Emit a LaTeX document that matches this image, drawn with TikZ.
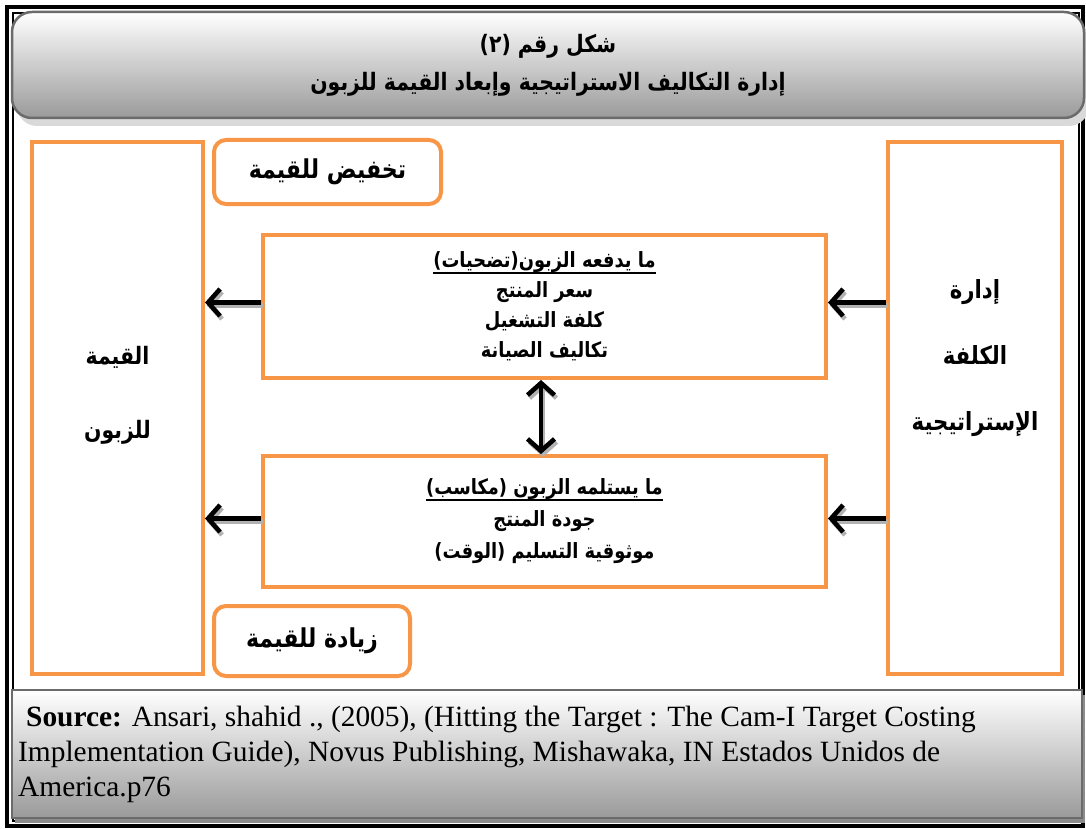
\documentclass[tikz,border=0pt]{standalone}
\usepackage{fontspec}
\setmainfont{Liberation Serif}
\newfontfamily\arabicfont[Script=Arabic,FakeStretch=0.85]{DejaVu Sans}
\TeXXeTstate=1
\usetikzlibrary{arrows.meta,shadows}
\definecolor{boxorange}{HTML}{F79646}
\definecolor{framegray}{HTML}{6B6B6B}
\definecolor{shadegray}{HTML}{9A9A9A}
% one right-to-left line of bold Arabic text
\newcommand{\artext}[1]{{\arabicfont\bfseries\beginR #1\endR}}
% the same, with a heavy rule under it
\newcommand{\arunder}[1]{\setbox0\hbox{\artext{#1}}%
  \vtop{\copy0\kern-\dp0\kern4pt\hrule height 1.8pt}}
\begin{document}
\begin{tikzpicture}[x=1pt,y=-1pt,
  orangebox/.style={draw=boxorange, line width=4pt, fill=white, inner sep=0pt},
  roundbox/.style={orangebox, rounded corners=12pt},
  grayband/.style={draw=framegray, line width=2.5pt, top color=white, bottom color=shadegray, inner sep=0pt},
  bartext/.style={font=\arabicfont\bfseries\fontsize{21}{30}\selectfont, align=center},
  flowarrow/.style={line width=4.6pt, -{Straight Barb[length=12pt,width=27pt]},
    preaction={draw=black!30, line width=4.6pt, -{Straight Barb[length=12pt,width=27pt]},
      transform canvas={shift={(2pt,-3pt)}}}},
  twoarrow/.style={line width=4.6pt, {Straight Barb[length=12pt,width=27pt]}-{Straight Barb[length=12pt,width=27pt]},
    preaction={draw=black!30, line width=4.6pt, {Straight Barb[length=12pt,width=27pt]}-{Straight Barb[length=12pt,width=27pt]},
      transform canvas={shift={(2pt,-3pt)}}}}
]
\useasboundingbox (0,0) rectangle (1086,829);
\fill[white] (0,0) rectangle (1086,829);

% page frame
\draw[line width=4pt] (7,7) rectangle (1083,826);
\draw[line width=1.2pt] (13,13) rectangle (1079,821);

% title band
\node[grayband, rounded corners=20pt, minimum width=1072pt, minimum height=106pt,
  drop shadow={shadow xshift=5pt, shadow yshift=-8pt, fill=black!15, opacity=1},
  font=\arabicfont\bfseries\fontsize{24}{38}\selectfont, align=center]
  (title) at (548,65)
  {\artext{شكل رقم (٢)}\\\artext{إدارة التكاليف الاستراتيجية وإبعاد القيمة للزبون}};

% source band
\node[grayband, minimum width=1070pt, minimum height=128pt,
  drop shadow={shadow xshift=3pt, shadow yshift=-5pt, fill=black!45, opacity=1}]
  (srcband) at (547,754) {};
\node[anchor=north west, align=left, inner sep=0pt,
  font=\fontsize{29.4}{35}\selectfont] (source) at (18,706)
  {\hspace*{8pt}\textbf{Source:} Ansari, shahid ., (2005), (Hitting the Target : The Cam-I Target Costing\\
   Implementation Guide), Novus Publishing, Mishawaka, IN Estados Unidos de\\
   America.p76};

% side boxes
\node[orangebox, minimum width=171pt, minimum height=532pt] (value) at (117.5,408) {};
\node[align=center, font=\arabicfont\bfseries\fontsize{24}{74}\selectfont] (valuetxt) at (117.5,395)
  {\artext{القيمة}\\\artext{للزبون}};
\node[orangebox, minimum width=174pt, minimum height=532pt] (mgmt) at (975,408) {};
\node[align=center, font=\arabicfont\bfseries\fontsize{25}{66}\selectfont] (mgmttxt) at (975,358)
  {\artext{إدارة}\\\artext{الكلفة}\\\artext{الإستراتيجية}};

% value change labels
\node[roundbox, minimum width=227pt, minimum height=64pt,
  font=\arabicfont\bfseries\fontsize{26}{30}\selectfont] (decrease) at (327.5,172)
  {\artext{تخفيض للقيمة}};
\node[roundbox, minimum width=196pt, minimum height=70pt,
  font=\arabicfont\bfseries\fontsize{26}{30}\selectfont] (increase) at (312,641)
  {\artext{زيادة للقيمة}};

% sacrifices and gains
\node[orangebox, minimum width=563pt, minimum height=143pt, bartext] (pay) at (544.5,306.5)
  {\arunder{ما يدفعه الزبون(تضحيات)}\\\artext{سعر المنتج}\\\artext{كلفة التشغيل}\\\artext{تكاليف الصيانة}};
\node[orangebox, minimum width=563pt, minimum height=131pt, bartext,
  font=\arabicfont\bfseries\fontsize{21}{32}\selectfont] (recv) at (544.5,521.5)
  {\arunder{ما يستلمه الزبون (مكاسب)}\\\artext{جودة المنتج}\\\artext{موثوقية التسليم (الوقت)}};

% connectors
\draw[flowarrow] ([yshift=4pt]pay.west) -- ([yshift=4pt]value.east |- pay.west);
\draw[flowarrow] ([yshift=3pt]recv.west) -- ([yshift=3pt]value.east |- recv.west);
\draw[flowarrow] ([yshift=4pt]mgmt.west |- pay.east) -- ([yshift=4pt]pay.east);
\draw[flowarrow] ([yshift=3pt]mgmt.west |- recv.east) -- ([yshift=3pt]recv.east);
\draw[twoarrow] ([xshift=-3.5pt]pay.south) -- ([xshift=-3.5pt]recv.north);
\end{tikzpicture}
\end{document}
